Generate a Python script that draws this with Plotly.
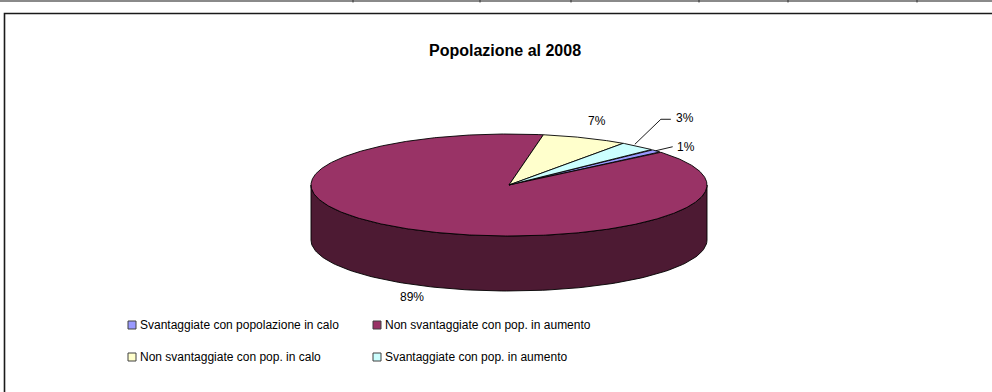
import numpy as np
import plotly.graph_objects as go

# ---- data -------------------------------------------------------------
categories = [
    "Svantaggiate con popolazione in calo",
    "Non svantaggiate con pop. in aumento",
    "Non svantaggiate con pop. in calo",
    "Svantaggiate con pop. in aumento",
]
shares = [1, 89, 7, 3]                 # percent of total
top_colors = ["#9999FF", "#993366", "#FFFFCC", "#CCFFFF"]
side_colors = ["#4D4D80", "#4D1A33", "#808066", "#668080"]
chart_title = "Popolazione al 2008"

# ---- geometry of the tilted pie (pixel space) ---------------------------
W, H = 992, 392
CX, CY = 509, 185          # centre of the top face
RX, RY = 198, 51           # radii of the top ellipse
DEPTH = 55                 # thickness of the disc
FIRST_ANGLE = 46.0         # start of first slice, degrees clockwise from 12 o'clock
FONT = "Arial, 'Liberation Sans', sans-serif"


def rim(theta_deg, drop=0.0):
    t = np.radians(theta_deg)
    return CX + RX * np.sin(t), CY - RY * np.cos(t) + drop


total = float(sum(shares))
bounds = []
a = FIRST_ANGLE
for v in shares:
    span = 360.0 * v / total
    bounds.append((a, a + span))
    a += span

fig = go.Figure()

# side walls: only the front half of the rim (90..270 deg) is visible
for (a0, a1), col in zip(bounds, side_colors):
    for base in (0.0, 360.0):
        lo, hi = max(a0, 90 + base), min(a1, 270 + base)
        if hi <= lo:
            continue
        th = np.linspace(lo, hi, 120)
        xt, yt = rim(th)
        xb, yb = rim(th[::-1], DEPTH)
        fig.add_trace(go.Scatter(
            x=np.concatenate([xt, xb, xt[:1]]),
            y=np.concatenate([yt, yb, yt[:1]]),
            mode="lines", fill="toself", fillcolor=col,
            line=dict(color="#000000", width=0.9),
            hoverinfo="skip", showlegend=False))

# top faces
for (a0, a1), col in zip(bounds, top_colors):
    n = max(8, int((a1 - a0) * 2))
    th = np.linspace(a0, a1, n)
    xs, ys = rim(th)
    fig.add_trace(go.Scatter(
        x=np.concatenate([[CX], xs, [CX]]),
        y=np.concatenate([[CY], ys, [CY]]),
        mode="lines", fill="toself", fillcolor=col,
        line=dict(color="#000000", width=0.9),
        hoverinfo="skip", showlegend=False))

# percentage labels: (dx, dy) from rim point at the slice mid-angle,
# optional leader polyline offsets
label_style = [
    dict(drop=0, dx=19, dy=-4, leader=[(0, 0), (17, -4)]),                 # 1%
    dict(drop=DEPTH, dx=1, dy=13, leader=None),                             # 89%
    dict(drop=0, dx=12, dy=-17, leader=None),                               # 7%
    dict(drop=0, dx=36, dy=-28, leader=[(-3, -2), (23, -27), (33, -27)]),   # 3%
]

annotations = []
for (a0, a1), v, st in zip(bounds, shares, label_style):
    mid = 0.5 * (a0 + a1)
    px, py = rim(mid, st["drop"])
    if st["leader"]:
        lx = [px + p[0] for p in st["leader"]]
        ly = [py + p[1] for p in st["leader"]]
        fig.add_trace(go.Scatter(x=lx, y=ly, mode="lines",
                                 line=dict(color="#000000", width=0.9),
                                 hoverinfo="skip", showlegend=False))
        anchor = "left"
    else:
        anchor = "center"
    annotations.append(dict(x=px + st["dx"], y=py + st["dy"], text=f"{v:.0f}%",
                            xanchor=anchor, yanchor="middle", showarrow=False,
                            font=dict(family=FONT, size=12, color="#000000")))

# title
annotations.append(dict(x=505, y=50, text=f"<b>{chart_title}</b>", showarrow=False,
                        xanchor="center", yanchor="middle",
                        font=dict(family=FONT, size=16, color="#000000")))

shapes = []
# legend: 2 x 2 grid of swatches and names
leg_cols = [128, 373]
leg_rows = [325, 357]
for i, (name, col) in enumerate(zip(categories, top_colors)):
    lx = leg_cols[i % 2]
    ly = leg_rows[i // 2]
    shapes.append(dict(type="rect", xref="x", yref="y", x0=lx, x1=lx + 8,
                       y0=ly - 4, y1=ly + 4, fillcolor=col,
                       line=dict(color="#404040", width=1)))
    annotations.append(dict(x=lx + 10, y=ly, text=name, showarrow=False,
                            xanchor="left", yanchor="middle",
                            font=dict(family=FONT, size=12, color="#000000")))

# sheet grid line at the top and the chart frame
shapes.append(dict(type="line", xref="x", yref="y", x0=0, x1=W, y0=1, y1=1,
                   line=dict(color="#8a8a8a", width=2)))
for gx in [353, 480, 571, 699, 788, 917]:
    shapes.append(dict(type="line", xref="x", yref="y", x0=gx, x1=gx, y0=0, y1=2.5,
                       line=dict(color="#303030", width=1)))
shapes.append(dict(type="rect", xref="x", yref="y", x0=4.5, y0=13.5, x1=W + 10, y1=H + 10,
                   line=dict(color="#1a1a1a", width=1.6), fillcolor="rgba(0,0,0,0)"))

fig.update_layout(
    width=W, height=H,
    margin=dict(l=0, r=0, t=0, b=0),
    paper_bgcolor="#FFFFFF", plot_bgcolor="#FFFFFF",
    xaxis=dict(range=[0, W], visible=False, fixedrange=True),
    yaxis=dict(range=[H, 0], visible=False, fixedrange=True),
    annotations=annotations, shapes=shapes,
    showlegend=False,
)

fig.write_html("out.html", config={"displayModeBar": False})
